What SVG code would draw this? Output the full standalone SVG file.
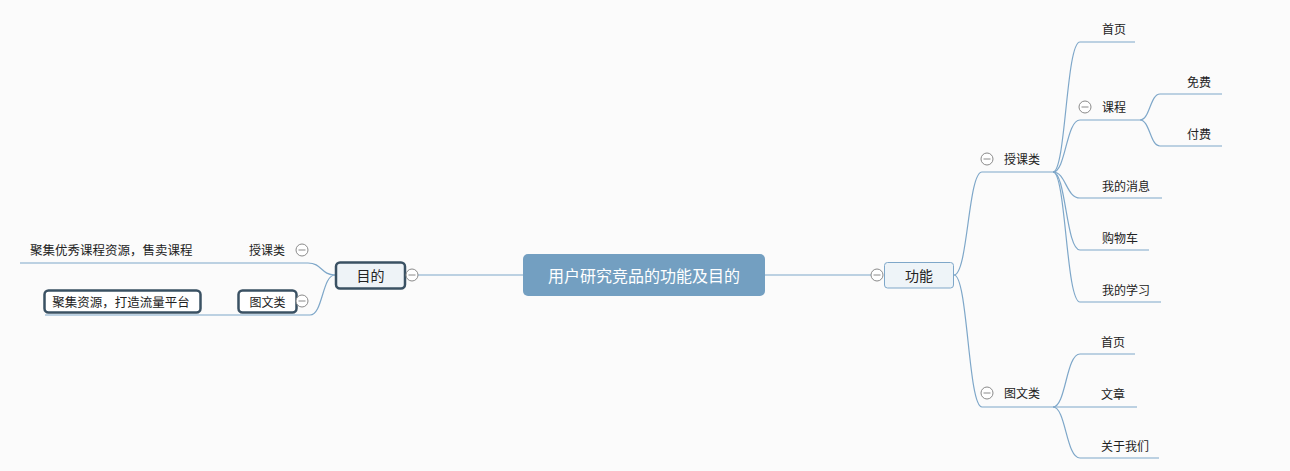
<svg xmlns="http://www.w3.org/2000/svg" width="1290" height="471" viewBox="0 0 1290 471">
<style>
text{font-family:"Noto Sans CJK SC","Microsoft YaHei",sans-serif;dominant-baseline:central;fill:#222}
.t12{font-size:12px}
.c{fill:none;stroke:#7ea7c9;stroke-width:1.2}
.tg circle{fill:#fff;stroke:#8a8a8a;stroke-width:1}
.tg line{stroke:#8a8a8a;stroke-width:1}
.dark{fill:#fff;stroke:#3a5163;stroke-width:2.5}
</style>
<defs>
<g id="tog" class="tg"><circle cx="0" cy="0" r="6"/><line x1="-3.5" y1="0" x2="3.5" y2="0"/></g>
</defs>
<rect width="1290" height="471" fill="#fbfbfb"/>
<g id="connectors">
<line class="c" x1="418" y1="275" x2="523" y2="275"/>
<line class="c" x1="765" y1="275" x2="871" y2="275"/>
<path class="c" d="M335 275 C321 275 322 263 308 263 L20 263"/>
<path class="c" d="M335 275 C322 275 323 315 310 315 L45 315"/>
<path class="c" d="M954 275 C968 275 968 172 982 172 L1053 172"/>
<path class="c" d="M954 275 C968 275 968 407 982 407 L1053 407"/>
<path class="c" d="M1053 172 C1066 172 1066 42 1080 42 L1135 42"/>
<path class="c" d="M1053 172 C1066 172 1066 120 1080 120 L1140 120"/>
<path class="c" d="M1053 172 C1066 172 1066 198 1080 198 L1162 198"/>
<path class="c" d="M1053 172 C1066 172 1066 250 1080 250 L1149 250"/>
<path class="c" d="M1053 172 C1066 172 1066 302 1080 302 L1161 302"/>
<path class="c" d="M1140 120 C1150 120 1150 94 1160 94 L1222 94"/>
<path class="c" d="M1140 120 C1150 120 1150 146 1160 146 L1222 146"/>
<path class="c" d="M1053 407 C1066 407 1066 354 1080 354 L1135 354"/>
<path class="c" d="M1053 407 L1137 407"/>
<path class="c" d="M1053 407 C1066 407 1066 458 1080 458 L1159 458"/>
</g>
<g id="root">
<rect x="523" y="254" width="242" height="42" rx="5" fill="#739fc1"/>
<text x="644" y="275" text-anchor="middle" style="font-size:16px;fill:#fff">用户研究竞品的功能及目的</text>
</g>
<g id="mudi">
<rect x="336" y="262.5" width="69" height="26" rx="4" fill="#eef3f7" stroke="#3a5163" stroke-width="2.5"/>
<text x="370.5" y="275" text-anchor="middle" style="font-size:14px">目的</text>
<use href="#tog" x="412" y="275"/>
</g>
<g id="gongneng">
<rect x="884.5" y="262.5" width="69" height="25.5" rx="3" fill="#eef4f8" stroke="#7ea7c9" stroke-width="1"/>
<text x="919" y="275" text-anchor="middle" style="font-size:14px">功能</text>
<use href="#tog" x="877" y="275"/>
</g>
<g id="l-shouke">
<text class="t12" x="285" y="249.5" text-anchor="end">授课类</text>
<use href="#tog" x="302" y="250"/>
</g>
<g id="l-shouke-desc">
<text class="t12" x="30" y="249.5" style="font-size:12.5px">聚集优秀课程资源，售卖课程</text>
</g>
<g id="l-tuwen">
<rect class="dark" x="238.5" y="290.5" width="58" height="22" rx="4"/>
<text class="t12" x="267.5" y="301" text-anchor="middle">图文类</text>
<use href="#tog" x="302" y="301"/>
</g>
<g id="l-tuwen-desc">
<rect class="dark" x="44.5" y="290.5" width="156" height="22" rx="4"/>
<text class="t12" x="121" y="301" text-anchor="middle" style="font-size:12.5px">聚集资源，打造流量平台</text>
</g>
<g id="r-shouke">
<use href="#tog" x="987" y="159"/>
<text class="t12" x="1004" y="158.5">授课类</text>
</g>
<g id="r-tuwen">
<use href="#tog" x="987" y="393"/>
<text class="t12" x="1004" y="392.5">图文类</text>
</g>
<g id="n-shouye1"><text class="t12" x="1102" y="28.5">首页</text></g>
<g id="n-kecheng"><use href="#tog" x="1085" y="107"/><text class="t12" x="1102" y="106.5">课程</text></g>
<g id="n-mianfei"><text class="t12" x="1187" y="81.5">免费</text></g>
<g id="n-fufei"><text class="t12" x="1187" y="133.5">付费</text></g>
<g id="n-xiaoxi"><text class="t12" x="1102" y="185.5">我的消息</text></g>
<g id="n-gouwuche"><text class="t12" x="1102" y="237.5">购物车</text></g>
<g id="n-xuexi"><text class="t12" x="1102" y="289.5">我的学习</text></g>
<g id="n-shouye2"><text class="t12" x="1101" y="341">首页</text></g>
<g id="n-wenzhang"><text class="t12" x="1101" y="393.5">文章</text></g>
<g id="n-guanyu"><text class="t12" x="1101" y="445.5">关于我们</text></g>
</svg>
